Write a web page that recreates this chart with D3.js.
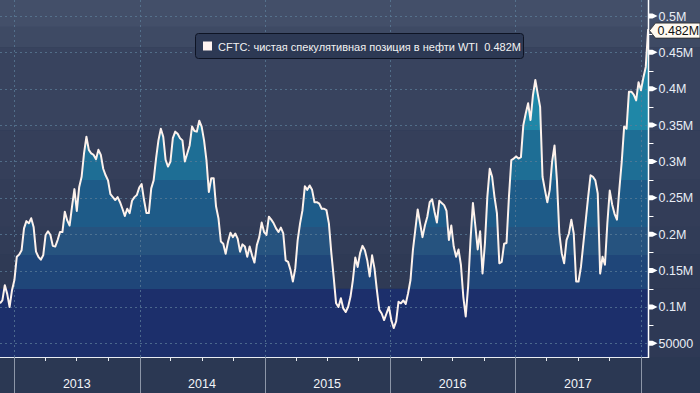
<!DOCTYPE html>
<html lang="ru">
<head>
<meta charset="UTF-8">
<script src="https://cdnjs.cloudflare.com/ajax/libs/d3/7.8.5/d3.min.js"></script>
<style>
body{
	margin: 0;
	background-color: #2b3853;
	font-family: "Liberation Sans", Arial, sans-serif;
}
svg{
	display: block;
}
</style>
</head>
<body>
<svg width="700" height="393"></svg>
<script>
// weekly CFTC report, first week and values in thousands of contracts
const firstWeek = "2012-11-20"
const netLong = [
	105, 109, 130, 118, 100, 123, 137, 169, 172, 178, 208, 218, 215, 222, 210, 176, 169, 165, 171, 199,
	204, 199, 184, 183, 192, 203, 203, 231, 219, 212, 238, 262, 232, 265, 279, 311, 334, 316, 311, 309,
	303, 316, 309, 290, 281, 274, 255, 251, 247, 251, 244, 235, 225, 235, 229, 246, 251, 254, 264, 269,
	247, 229, 229, 263, 274, 304, 329, 345, 334, 302, 293, 300, 332, 341, 338, 332, 329, 300, 311, 322,
	348, 342, 341, 356, 348, 329, 302, 258, 277, 277, 238, 222, 190, 187, 173, 190, 202, 196, 201, 194,
	176, 186, 183, 169, 183, 171, 161, 185, 196, 216, 203, 199, 224, 220, 215, 208, 203, 209, 201, 164,
	162, 151, 135, 153, 192, 215, 233, 266, 261, 267, 261, 244, 244, 242, 235, 235, 233, 215, 175, 141,
	105, 100, 112, 98, 93, 100, 114, 137, 168, 155, 174, 184, 178, 164, 142, 171, 153, 123, 96, 91,
	82, 91, 100, 82, 71, 80, 107, 105, 109, 104, 119, 137, 178, 206, 234, 215, 196, 212, 224, 244,
	248, 231, 216, 246, 243, 240, 232, 192, 212, 183, 169, 179, 158, 114, 87, 128, 192, 243, 212, 179,
	204, 146, 187, 251, 290, 279, 251, 229, 160, 162, 187, 188, 251, 302, 304, 307, 304, 306, 350, 366,
	380, 357, 391, 412, 393, 375, 279, 261, 244, 261, 300, 322, 274, 201, 174, 160, 192, 201, 220, 201,
	135, 135, 155, 187, 219, 251, 281, 279, 274, 256, 146, 169, 158, 215, 260, 241, 228, 220, 262, 300,
	348, 345, 396, 396, 392, 384, 409, 398, 415, 430, 482
]

const yTicks = [50000, 100000, 150000, 200000, 250000, 300000, 350000, 400000, 450000, 500000]
const years = [2013, 2014, 2015, 2016, 2017, 2018]
const seriesName = "CFTC: чистая спекулятивная позиция в нефти WTI"

// colour steps of the fill and of the background
const bandBreaks = [125000, 172000, 210000, 275000, 343000]
const areaColors = ["#1c2f6b", "#1f4679", "#26537f", "#1e5b88", "#1e6e95", "#1f87a7"]
const bgBreaks = [125000, 172000, 210000, 275000, 343000, 457000, 485000]
const bgColors = ["#2e3955", "#2f3a55", "#313c57", "#333d58", "#353f5a", "#38435e", "#3e4a64", "#434f69"]

const plotW = 648.5, plotH = 357

const svg = d3.select("svg")

const parse = d3.timeParse("%Y-%m-%d")
const start = parse(firstWeek)
const data = netLong.map(function(v, i) {
	return {date: d3.timeDay.offset(start, 7 * i), value: v * 1000}
})

const x = d3.scaleTime()
	.domain([start, new Date(2018, 0, 24)])
	.range([0, plotW])

const y = d3.scaleLinear()
	.domain([31200, 522000])
	.range([plotH, 0])

// background stripes
const bgEdges = [31200].concat(bgBreaks).concat([522000])
svg.selectAll(".bg")
	.data(bgColors)
	.join("rect")
	.attr("class", "bg")
	.attr("x", 0)
	.attr("width", 700)
	.attr("y", function(d, i) { return y(bgEdges[i + 1]) })
	.attr("height", function(d, i) { return y(bgEdges[i]) - y(bgEdges[i + 1]) })
	.style("fill", function(d) { return d })

svg.append("rect")
	.attr("x", 0).attr("width", plotW)
	.attr("y", y(bandBreaks[0])).attr("height", plotH - y(bandBreaks[0]))
	.style("fill", areaColors[0])

// stepped gradient for the area
const grad = svg.append("defs").append("linearGradient")
	.attr("id", "bands")
	.attr("gradientUnits", "userSpaceOnUse")
	.attr("x1", 0).attr("x2", 0)
	.attr("y1", plotH).attr("y2", 0)

let stops = []
areaColors.forEach(function(c, i) {
	let lo = i == 0 ? 0 : (plotH - y(bandBreaks[i - 1])) / plotH
	let hi = i == areaColors.length - 1 ? 1 : (plotH - y(bandBreaks[i])) / plotH
	stops.push({o: lo, c: c})
	stops.push({o: hi, c: c})
})
grad.selectAll("stop")
	.data(stops)
	.join("stop")
	.attr("offset", function(d) { return d.o })
	.attr("stop-color", function(d) { return d.c })

const area = d3.area()
	.x(function(d) { return x(d.date) })
	.y0(plotH)
	.y1(function(d) { return y(d.value) })

svg.append("path")
	.datum(data)
	.attr("d", area)
	.style("fill", "url(#bands)")

// dotted grid
svg.selectAll(".hgrid")
	.data(yTicks)
	.join("line")
	.attr("class", "hgrid")
	.attr("x1", 0).attr("x2", plotW)
	.attr("y1", function(d) { return Math.round(y(d)) + 0.5 })
	.attr("y2", function(d) { return Math.round(y(d)) + 0.5 })
	.style("stroke", "#5b7c98")
	.style("stroke-opacity", 0.75)
	.style("stroke-dasharray", "2,3")

svg.selectAll(".vgrid")
	.data(years)
	.join("line")
	.attr("class", "vgrid")
	.attr("x1", function(d) { return Math.round(x(new Date(d, 0, 1))) + 0.5 })
	.attr("x2", function(d) { return Math.round(x(new Date(d, 0, 1))) + 0.5 })
	.attr("y1", 0).attr("y2", plotH)
	.style("stroke", "#5b7c98")
	.style("stroke-opacity", 0.75)
	.style("stroke-dasharray", "2,3")

const line = d3.line()
	.x(function(d) { return x(d.date) })
	.y(function(d) { return y(d.value) })

svg.append("path")
	.datum(data)
	.attr("d", line)
	.style("fill", "none")
	.style("stroke", "#fdf2ec")
	.style("stroke-width", 2)
	.style("stroke-linejoin", "round")

// x axis strip
svg.append("rect")
	.attr("x", 0).attr("y", plotH)
	.attr("width", 700).attr("height", 393 - plotH)
	.style("fill", "#2b3853")

svg.append("line")
	.attr("x1", 0).attr("x2", plotW)
	.attr("y1", plotH + 0.5).attr("y2", plotH + 0.5)
	.style("stroke", "#e8ecf2")

svg.selectAll(".qtick")
	.data(d3.timeMonth.every(3).range(start, new Date(2018, 0, 24)).filter(function(d) { return d.getMonth() != 0 }))
	.join("line")
	.attr("class", "qtick")
	.attr("x1", function(d) { return Math.round(x(d)) + 0.5 })
	.attr("x2", function(d) { return Math.round(x(d)) + 0.5 })
	.attr("y1", plotH).attr("y2", plotH + 4)
	.style("stroke", "#e8ecf2")

svg.selectAll(".ysep")
	.data(years)
	.join("line")
	.attr("class", "ysep")
	.attr("x1", function(d) { return Math.round(x(new Date(d, 0, 1))) + 0.5 })
	.attr("x2", function(d) { return Math.round(x(new Date(d, 0, 1))) + 0.5 })
	.attr("y1", plotH).attr("y2", 393)
	.style("stroke", "#8c96a8")

svg.selectAll(".ylabel")
	.data(years.slice(0, -1))
	.join("text")
	.attr("class", "ylabel")
	.attr("x", function(d) { return x(new Date(d, 6, 2)) })
	.attr("y", 388)
	.attr("text-anchor", "middle")
	.style("font-size", "12.5px")
	.style("fill", "#f2f4f8")
	.text(function(d) { return d })

// right axis
svg.append("line")
	.attr("x1", plotW).attr("x2", plotW)
	.attr("y1", 0).attr("y2", plotH + 1)
	.style("stroke", "#ffffff")
	.style("stroke-width", 1.5)

svg.selectAll(".minor")
	.data(yTicks.map(function(d) { return d + 25000 }).filter(function(d) { return d < 522000 }))
	.join("line")
	.attr("class", "minor")
	.attr("x1", plotW).attr("x2", plotW + 5)
	.attr("y1", function(d) { return Math.round(y(d)) + 0.5 })
	.attr("y2", function(d) { return Math.round(y(d)) + 0.5 })
	.style("stroke", "#ffffff")

svg.selectAll(".major")
	.data(yTicks)
	.join("path")
	.attr("class", "major")
	.attr("d", function(d) {
		let yy = y(d)
		return "M" + plotW + "," + (yy - 2.5) + "L" + (plotW + 4) + "," + (yy - 2.5) + "L" + (plotW + 9) + "," + yy +
			"L" + (plotW + 4) + "," + (yy + 2.5) + "L" + plotW + "," + (yy + 2.5) + "Z"
	})
	.style("fill", "#ffffff")

svg.selectAll(".tlabel")
	.data(yTicks)
	.join("text")
	.attr("class", "tlabel")
	.attr("x", plotW + 10)
	.attr("y", function(d) { return y(d) })
	.attr("dy", "0.36em")
	.style("font-size", "12.5px")
	.style("fill", "#e9eef6")
	.text(function(d) { return d < 100000 ? d : (d / 1e6) + "M" })

// last value flag
const last = data[data.length - 1]
const lastTxt = (last.value / 1e6).toFixed(3) + "M"
const ly = y(last.value) + 1.5
svg.append("path")
	.attr("d", "M" + (plotW + 1) + "," + ly + "L" + (plotW + 7) + "," + (ly - 7.5) + "L700," + (ly - 7.5) +
		"L700," + (ly + 7.5) + "L" + (plotW + 7) + "," + (ly + 7.5) + "Z")
	.style("fill", "#fffaf2")
	.style("stroke", "#2a2a2a")
	.style("stroke-width", 0.8)
svg.append("text")
	.attr("x", plotW + 9)
	.attr("y", ly)
	.attr("dy", "0.36em")
	.style("font-size", "12.5px")
	.style("fill", "#111111")
	.text(lastTxt)

// legend
const lg = svg.append("g").attr("transform", "translate(195.5,33.5)")
lg.append("rect")
	.attr("width", 328).attr("height", 25).attr("rx", 3)
	.style("fill", "#2d3954")
	.style("stroke", "#0e1424")
lg.append("rect")
	.attr("x", 7.5).attr("y", 8).attr("width", 9).attr("height", 9)
	.style("fill", "#fff4f0")
lg.append("text")
	.attr("x", 22.5).attr("y", 17)
	.style("font-size", "11px")
	.style("fill", "#f2f2f2")
	.style("white-space", "pre")
	.text(seriesName + "  " + lastTxt)
</script>
</body>
</html>
